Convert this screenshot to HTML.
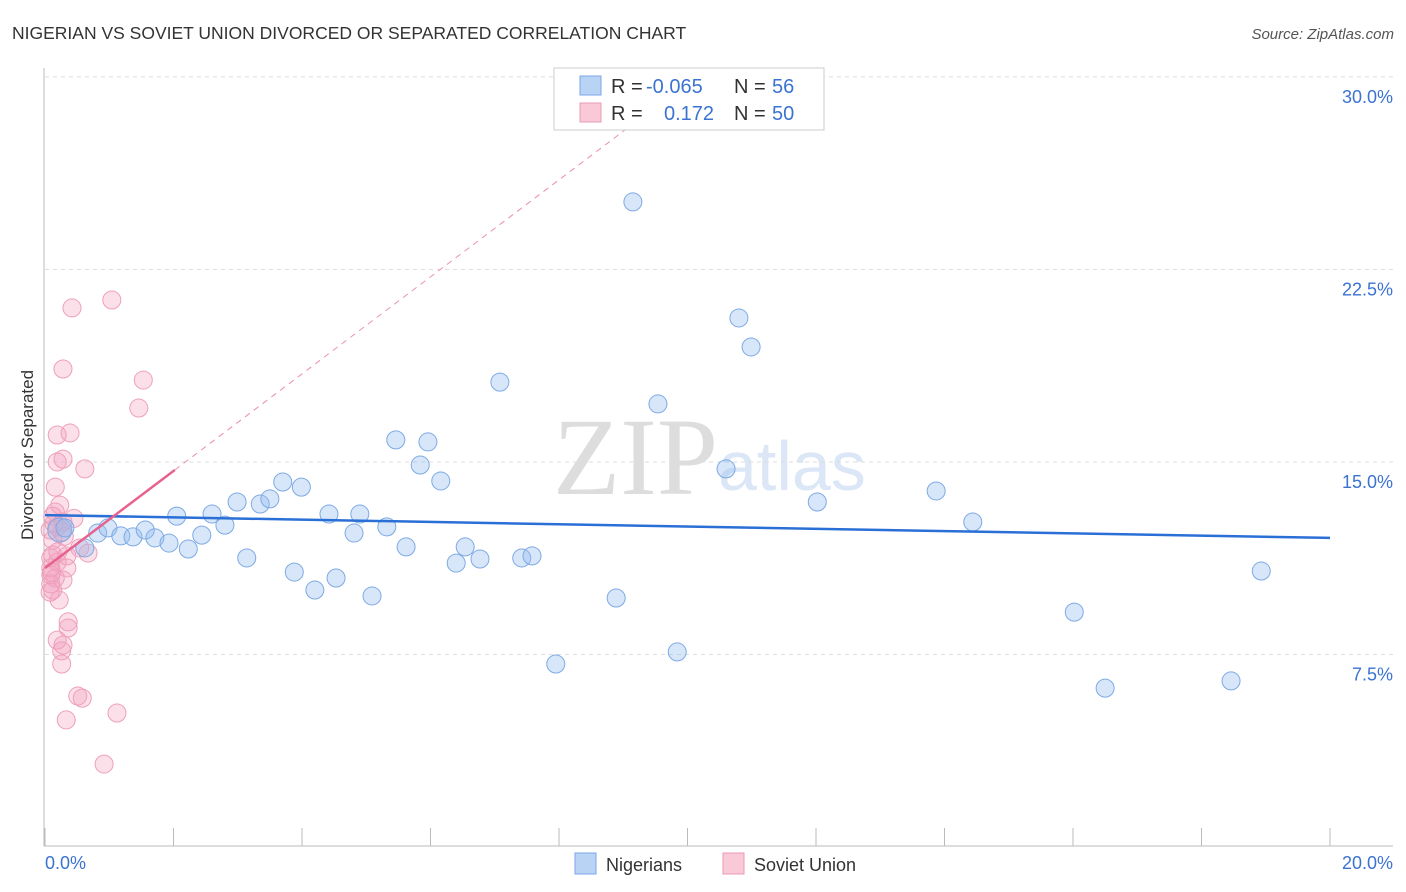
<!DOCTYPE html>
<html><head><meta charset="utf-8"><style>
body{margin:0;background:#fff;font-family:"Liberation Sans",sans-serif;}
#wrap{position:relative;width:1406px;height:892px;overflow:hidden;}
</style></head><body>
<div id="wrap">
<svg id="svg" width="1406" height="892" xmlns="http://www.w3.org/2000/svg">
<text x="12" y="39" font-size="17.5" fill="#333">NIGERIAN VS SOVIET UNION DIVORCED OR SEPARATED CORRELATION CHART</text>
<text x="1394" y="39" font-size="15" fill="#555" font-style="italic" text-anchor="end">Source: ZipAtlas.com</text>
<text x="553" y="494" font-size="110" fill="#ddd" font-family="Liberation Serif,serif">ZIP</text>
<text x="718" y="490" font-size="70" fill="#dbe7f6">atlas</text>
<g id="grid"></g>
<line x1="44" y1="68" x2="44" y2="846" stroke="#bbb"/>
<line x1="44" y1="846" x2="1393" y2="846" stroke="#bbb"/>
<g id="ticks"></g>
<text transform="translate(33,455) rotate(-90)" font-size="17" fill="#333" text-anchor="middle">Divorced or Separated</text>
<text x="45" y="869" font-size="18" fill="#3b73d1">0.0%</text>
<text x="1393" y="869" font-size="18" fill="#3b73d1" text-anchor="end">20.0%</text>
<g id="pts"></g>
<g id="trends"></g>
<g>
<rect x="554" y="68" width="270" height="62" fill="#fff" stroke="#ccc"/>
<rect x="580" y="76" width="21" height="19" fill="#b9d3f5" stroke="#7aa6e6"/>
<rect x="580" y="103" width="21" height="19" fill="#f9c9d7" stroke="#eb9bb3"/>
<text x="611" y="93" font-size="20" fill="#333">R = </text><text x="646" y="93" font-size="20" fill="#3b73d1">-0.065</text>
<text x="734" y="93" font-size="20" fill="#333">N = </text><text x="772" y="93" font-size="20" fill="#3b73d1">56</text>
<text x="611" y="120" font-size="20" fill="#333">R = </text><text x="664" y="120" font-size="20" fill="#3b73d1">0.172</text>
<text x="734" y="120" font-size="20" fill="#333">N = </text><text x="772" y="120" font-size="20" fill="#3b73d1">50</text>
</g>
<g>
<rect x="575" y="853" width="21" height="21" fill="#b9d3f5" stroke="#7aa6e6"/>
<text x="606" y="871" font-size="18" fill="#333">Nigerians</text>
<rect x="723" y="853" width="21" height="21" fill="#f9c9d7" stroke="#eb9bb3"/>
<text x="754" y="871" font-size="18" fill="#333">Soviet Union</text>
</g>
</svg>
</div>
<script>
const yTicks=[7.5,15,22.5,30];
const yTickLabels=["7.5%","15.0%","22.5%","30.0%"];
const xTicks=[0,2,4,6,8,10,12,14,16,18,20];
const blueX=[0.23,0.31,0.62,0.82,0.98,1.18,1.37,1.56,1.71,1.93,2.05,2.23,2.44,2.60,2.80,2.99,3.14,3.35,3.50,3.70,3.88,3.99,4.20,4.42,4.53,4.81,4.90,5.09,5.32,5.46,5.62,5.84,5.96,6.16,6.40,6.54,6.77,7.08,7.42,7.58,7.95,8.89,9.15,9.54,9.84,10.60,10.80,10.99,12.02,13.87,14.44,16.02,16.50,18.46,18.93];
const blueY=[12.35,12.43,11.65,12.23,12.43,12.12,12.08,12.35,12.04,11.84,12.89,11.61,12.15,12.97,12.54,13.44,11.26,13.36,13.56,14.22,10.71,14.02,10.01,12.97,10.48,12.23,12.97,9.78,12.47,15.86,11.69,14.88,15.78,14.26,11.06,11.69,11.22,18.11,11.26,11.34,7.13,9.70,25.13,17.26,7.60,14.73,20.61,19.48,13.44,13.87,12.66,9.15,6.19,6.47,10.75];
const pinkX=[0.42,1.04,0.28,1.53,1.46,0.39,0.19,0.28,0.19,0.62,0.16,0.16,0.12,0.28,0.19,0.26,0.12,0.67,0.34,0.09,0.19,0.09,0.34,0.09,0.16,0.28,0.09,0.12,0.22,0.36,0.36,0.28,0.19,0.26,0.26,0.51,0.58,0.33,1.12,0.92,0.54,0.08,0.12,0.08,0.23,0.14,0.20,0.10,0.30,0.45];
const pinkY=[21.0,21.31,18.62,18.19,17.10,16.13,16.05,15.11,15.0,14.73,14.02,13.05,12.89,12.66,12.47,12.27,11.96,11.45,11.34,11.26,11.10,10.87,10.87,10.6,10.48,10.40,10.25,10.01,9.62,8.77,8.53,7.87,8.06,7.64,7.13,5.88,5.80,4.95,5.22,3.23,11.65,12.35,11.38,9.93,13.32,12.6,11.5,10.7,12.1,12.8];
const blueTrend=[12.93,12.04];
const pinkTrend=[10.87,1.89];
const pinkSolidEnd=2.02;

const X0=45,X1=1330,XMAX=20,YB=847,YPER=25.67;
const sx=v=>X0+v*(X1-X0)/XMAX;
const sy=v=>YB-v*YPER;
const NS="http://www.w3.org/2000/svg";
function mk(tag,attrs,parent){const e=document.createElementNS(NS,tag);for(const k in attrs)e.setAttribute(k,attrs[k]);parent.appendChild(e);return e;}
const grid=document.getElementById('grid');
yTicks.forEach((t,i)=>{
  const l=mk('line',{x1:45,x2:1393,y1:sy(t),y2:sy(t),stroke:'#ddd','stroke-dasharray':'4,4'},grid);
  
  
  const tx=mk('text',{x:1393,y:sy(t)+26,'font-size':18,fill:'#3b73d1','text-anchor':'end'},grid);
  tx.textContent=yTickLabels[i];
  
  
});
const ticks=document.getElementById('ticks');
xTicks.forEach(t=>{
  const l=mk('line',{x1:sx(t),x2:sx(t),y1:828,y2:846,stroke:'#bbb'},ticks);
  
  
});
const pts=document.getElementById('pts');
pinkX.forEach((x,i)=>{
  const c=mk('circle',{cx:sx(x),cy:sy(pinkY[i]),r:9,fill:'rgba(244,160,190,0.33)',stroke:'#eea0b9','stroke-width':1},pts);
  
  
});
blueX.forEach((x,i)=>{
  const c=mk('circle',{cx:sx(x),cy:sy(blueY[i]),r:i===0?12:9,fill:'rgba(150,190,238,0.38)',stroke:'#7eaae4','stroke-width':1},pts);
  
  
});
const tr=document.getElementById('trends');
const bl=mk('line',{x1:sx(0),y1:sy(blueTrend[0]),x2:sx(20),y2:sy(blueTrend[1]),stroke:'#2a6fd6','stroke-width':2.5},tr);


const xTop=(30-pinkTrend[0])/pinkTrend[1];
const pd=mk('line',{x1:sx(pinkSolidEnd),y1:sy(pinkTrend[0]+pinkTrend[1]*pinkSolidEnd),x2:sx(xTop),y2:sy(30),stroke:'#ec8fae','stroke-width':1,'stroke-dasharray':'6,5'},tr);


const ps=mk('line',{x1:sx(0),y1:sy(pinkTrend[0]),x2:sx(pinkSolidEnd),y2:sy(pinkTrend[0]+pinkTrend[1]*pinkSolidEnd),stroke:'#e8628f','stroke-width':2.5},tr);


</script>
</body></html>
